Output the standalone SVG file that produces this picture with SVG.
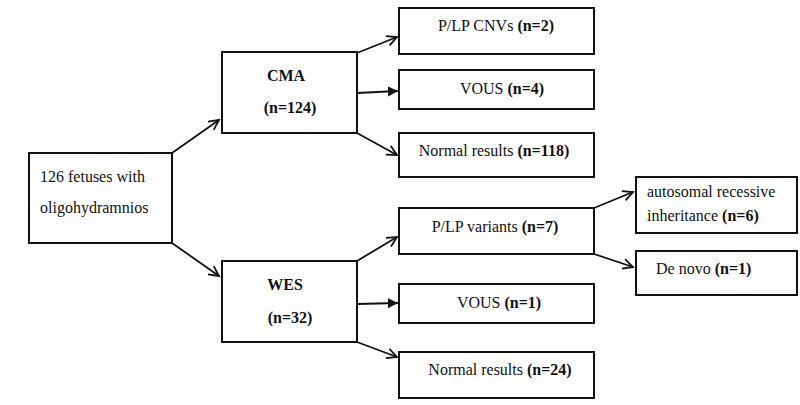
<svg xmlns="http://www.w3.org/2000/svg" width="800" height="405" viewBox="0 0 800 405">
<style>
  .box{fill:#fff;stroke:#111;stroke-width:2}
  .t{font-family:"Liberation Serif","Times New Roman",serif;font-size:16px;fill:#111}
  .b{font-weight:bold}
  .c{stroke:#111;stroke-width:1.8;fill:none}
</style>
<defs>
  <marker id="open" markerUnits="userSpaceOnUse" markerWidth="14" markerHeight="14" refX="11" refY="6" orient="auto">
    <path d="M1,1 L11,6 L1,11" fill="none" stroke="#111" stroke-width="1.8"/>
  </marker>
  <marker id="fill" markerUnits="userSpaceOnUse" markerWidth="12" markerHeight="12" refX="10" refY="5" orient="auto">
    <path d="M0,0 L10,5 L0,10 Z" fill="#111"/>
  </marker>
</defs>
<rect width="800" height="405" fill="#fff"/>
<g id="connectors">
  <line class="c" x1="172" y1="153" x2="219" y2="120" marker-end="url(#open)"/>
  <line class="c" x1="172" y1="243" x2="219" y2="276" marker-end="url(#open)"/>
  <line class="c" x1="357" y1="53" x2="397" y2="37" marker-end="url(#open)"/>
  <line class="c" x1="357" y1="93" x2="398" y2="91" marker-end="url(#fill)"/>
  <line class="c" x1="357" y1="133" x2="397" y2="155" marker-end="url(#open)"/>
  <line class="c" x1="357" y1="261" x2="397" y2="237" marker-end="url(#open)"/>
  <line class="c" x1="357" y1="304" x2="398" y2="303" marker-end="url(#fill)"/>
  <line class="c" x1="357" y1="342" x2="397" y2="357" marker-end="url(#open)"/>
  <line class="c" x1="594" y1="208" x2="633" y2="192" marker-end="url(#open)"/>
  <line class="c" x1="594" y1="254" x2="633" y2="267" marker-end="url(#open)"/>
</g>
<g id="root">
  <rect class="box" x="29" y="153" width="143" height="90"/>
  <text class="t" x="40" y="182">126 fetuses with</text>
  <text class="t" x="40" y="213">oligohydramnios</text>
</g>
<g id="cma">
  <rect class="box" x="222" y="52" width="135" height="81"/>
  <text class="t b" x="286" y="81" text-anchor="middle">CMA</text>
  <text class="t b" x="290" y="113" text-anchor="middle">(n=124)</text>
</g>
<g id="wes">
  <rect class="box" x="222" y="261" width="135" height="81"/>
  <text class="t b" x="285" y="290" text-anchor="middle">WES</text>
  <text class="t b" x="290" y="323" text-anchor="middle">(n=32)</text>
</g>
<g id="cnv">
  <rect class="box" x="399" y="8" width="195" height="46"/>
  <text class="t" x="496" y="31" text-anchor="middle">P/LP CNVs <tspan class="b">(n=2)</tspan></text>
</g>
<g id="vous1">
  <rect class="box" x="399" y="70" width="195" height="39"/>
  <text class="t" x="502" y="94" text-anchor="middle">VOUS <tspan class="b">(n=4)</tspan></text>
</g>
<g id="normal1">
  <rect class="box" x="399" y="133" width="195" height="44"/>
  <text class="t" x="494" y="156" text-anchor="middle">Normal results <tspan class="b">(n=118)</tspan></text>
</g>
<g id="plp">
  <rect class="box" x="399" y="208" width="195" height="46"/>
  <text class="t" x="495" y="232" text-anchor="middle">P/LP variants <tspan class="b">(n=7)</tspan></text>
</g>
<g id="vous2">
  <rect class="box" x="399" y="284" width="195" height="39"/>
  <text class="t" x="499" y="308" text-anchor="middle">VOUS <tspan class="b">(n=1)</tspan></text>
</g>
<g id="normal2">
  <rect class="box" x="399" y="352" width="195" height="46"/>
  <text class="t" x="500" y="375" text-anchor="middle">Normal results <tspan class="b">(n=24)</tspan></text>
</g>
<g id="ar">
  <rect class="box" x="636" y="177" width="161" height="56"/>
  <text class="t" x="647" y="197">autosomal recessive</text>
  <text class="t" x="647" y="221">inheritance <tspan class="b">(n=6)</tspan></text>
</g>
<g id="denovo">
  <rect class="box" x="636" y="251" width="161" height="44"/>
  <text class="t" x="656" y="274">De novo <tspan class="b">(n=1)</tspan></text>
</g>
</svg>
